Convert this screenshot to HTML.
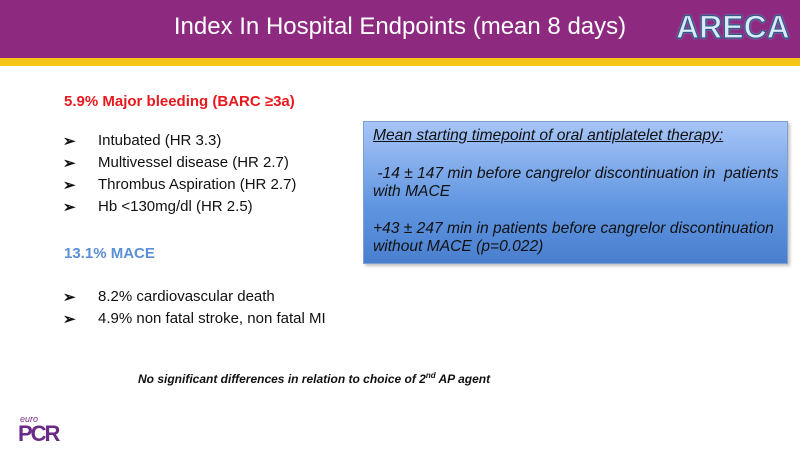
<!DOCTYPE html>
<html><head><meta charset="utf-8"><style>
body{margin:0;width:800px;height:450px;overflow:hidden;background:#fff;font-family:"Liberation Sans",sans-serif;position:relative}
.hdr{position:absolute;left:0;top:0;width:800px;height:58px;background:#8d2a80}
.bar{position:absolute;left:0;top:58px;width:800px;height:8px;background:#f5c518}
.title{position:absolute;left:0;width:800px;top:13px;text-align:center;color:#fff;font-size:24px}
.areca{position:absolute;left:676px;top:9px;font-size:32px;font-weight:bold;color:#dce9f7;-webkit-text-stroke:1.2px #2b5c8a;text-shadow:0 0 2px #9fd0f0}
.t{position:absolute;font-size:15px;color:#111;white-space:nowrap}
.b{position:absolute;left:63px;font-size:15px;font-weight:bold}
.box{position:absolute;left:363px;top:121px;width:423px;height:141px;background:linear-gradient(#a7c5f7,#5f95e0 60%,#4a7fcf);border:1px solid #7da0d0;box-shadow:2px 2px 3px rgba(0,0,0,.25)}
.box p{margin:0;position:absolute;left:9px;font-style:italic;font-size:15.6px;color:#111;white-space:nowrap}
</style></head><body>
<div class="hdr"></div><div class="bar"></div>
<div class="title">Index In Hospital Endpoints (mean 8 days)</div>
<div class="areca">ARECA</div>
<div class="t" style="left:64px;top:93px;color:#e8191e;font-weight:bold">5.9% Major bleeding (BARC ≥3a)</div>
<div class="t b" style="top:132px">➢</div><div class="t" style="left:98px;top:132px">Intubated (HR 3.3)</div>
<div class="t b" style="top:154px">➢</div><div class="t" style="left:98px;top:154px">Multivessel disease (HR 2.7)</div>
<div class="t b" style="top:176px">➢</div><div class="t" style="left:98px;top:176px">Thrombus Aspiration (HR 2.7)</div>
<div class="t b" style="top:198px">➢</div><div class="t" style="left:98px;top:198px">Hb &lt;130mg/dl (HR 2.5)</div>
<div class="t" style="left:64px;top:245px;color:#5b8fd6;font-weight:bold">13.1% MACE</div>
<div class="t b" style="top:288px">➢</div><div class="t" style="left:98px;top:288px">8.2% cardiovascular death</div>
<div class="t b" style="top:310px">➢</div><div class="t" style="left:98px;top:310px">4.9% non fatal stroke, non fatal MI</div>
<div class="t" style="left:138px;top:371px;font-size:12px;font-weight:bold;font-style:italic">No significant differences in relation to choice of 2<sup style="font-size:8px">nd</sup> AP agent</div>
<div class="box">
<p style="top:5px;text-decoration:underline">Mean starting timepoint of oral antiplatelet therapy:</p>
<p style="top:43px">&nbsp;-14 ± 147 min before cangrelor discontinuation in&nbsp; patients</p>
<p style="top:61px">with MACE</p>
<p style="top:98px">+43 ± 247 min in patients before cangrelor discontinuation</p>
<p style="top:116px">without MACE (p=0.022)</p>
</div>
<div style="position:absolute;left:20px;top:414px;font-size:9px;color:#7a2d86;font-style:italic">euro</div>
<div style="position:absolute;left:18px;top:421px;font-size:22px;font-weight:bold;color:#6b2a87;letter-spacing:-2px">PCR</div>
</body></html>
